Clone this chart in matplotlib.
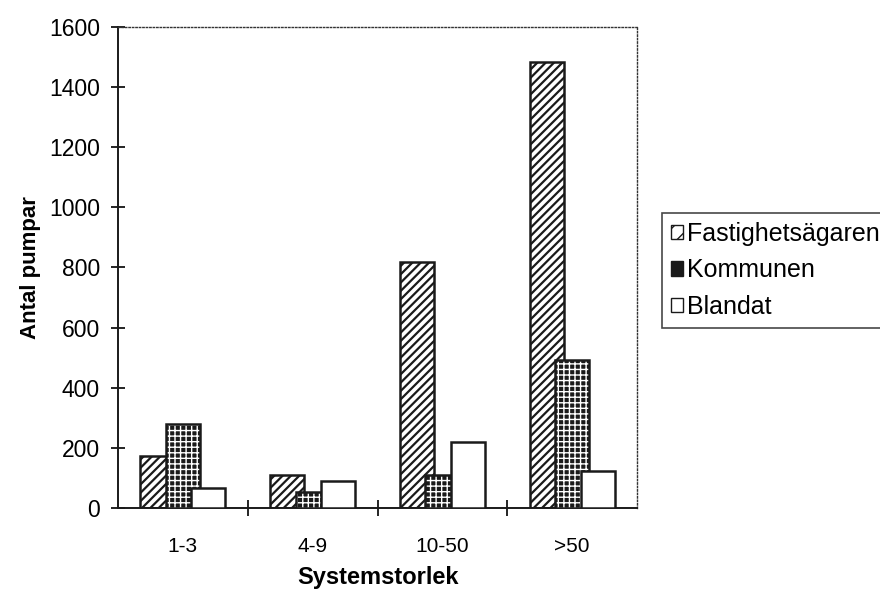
import numpy as np
import matplotlib.pyplot as plt
from matplotlib.patches import Patch

plt.rcParams['font.family'] = ['Liberation Sans', 'DejaVu Sans']

categories = ["1-3", "4-9", "10-50", ">50"]
series_names = ["Fastighetsägaren", "Kommunen", "Blandat"]
fastighet = [174, 109, 818, 1484]
kommunen = [279, 55, 109, 492]
blandat = [67, 91, 218, 124]
values = [fastighet, kommunen, blandat]

# fill colour, hatch, hatch colour, hatch linewidth per series
styles = [
    ("white", "////", "#1a1a1a", 1.6),
    ("#1a1a1a", "+++", "white", 1.0),
    ("white", "", "white", 1.0),
]


def main() -> None:
    fig = plt.figure(figsize=(8.8, 5.97), dpi=100)
    ax = fig.add_axes([0.134, 0.149, 0.590, 0.806])

    x = np.arange(len(categories))
    width = 0.262
    step = 0.197

    for i, (vals, (face, hatch, hcol, hlw)) in enumerate(zip(values, styles)):
        pos = x + (i - 1) * step
        with plt.rc_context({"hatch.linewidth": hlw}):
            ax.bar(pos, vals, width=width, color=face, hatch=hatch,
                   edgecolor=hcol, linewidth=0, zorder=2 + i)
        ax.bar(pos, vals, width=width, fill=False, edgecolor="#1a1a1a",
               linewidth=1.8, zorder=2 + i)

    ax.set_xlim(-0.5, len(categories) - 0.5)
    ax.set_ylim(0, 1600)
    ax.set_yticks(range(0, 1601, 200))
    ax.set_xticks(x)
    ax.set_xticklabels(categories)
    ax.set_xticks(np.arange(0.5, len(categories) - 1, 1.0), minor=True)

    ax.tick_params(axis="y", direction="inout", length=10, width=1.2,
                   labelsize=16.5, pad=8)
    ax.tick_params(axis="x", which="major", length=0, labelsize=15, pad=21)
    ax.tick_params(axis="x", which="minor", direction="inout", length=12,
                   width=1.2)

    for side in ("left", "bottom"):
        ax.spines[side].set_linewidth(1.4)
        ax.spines[side].set_color("#1a1a1a")
    for side in ("top", "right"):
        ax.spines[side].set_linestyle((0, (1, 1.5)))
        ax.spines[side].set_linewidth(1.0)
        ax.spines[side].set_color("#333333")

    ax.set_ylabel("Antal pumpar", fontsize=16, fontweight="bold", labelpad=6)
    ax.set_xlabel("Systemstorlek", fontsize=17, fontweight="bold", labelpad=7)

    handles = [
        Patch(facecolor=face, edgecolor="#1a1a1a", hatch=hatch[:2])
        for face, hatch, _, _ in styles
    ]
    leg = fig.legend(handles, series_names, loc="upper left",
                     bbox_to_anchor=(0.752, 0.643), fontsize=18,
                     frameon=True, fancybox=False, shadow=False,
                     handlelength=0.5, handleheight=0.5, handletextpad=0.15,
                     borderpad=0.35, labelspacing=0.5, borderaxespad=0)
    leg.get_frame().set_edgecolor("#1a1a1a")
    leg.get_frame().set_linewidth(1.2)

    fig.savefig("out.png", dpi=100)
    plt.close(fig)


if __name__ == "__main__":
    main()
